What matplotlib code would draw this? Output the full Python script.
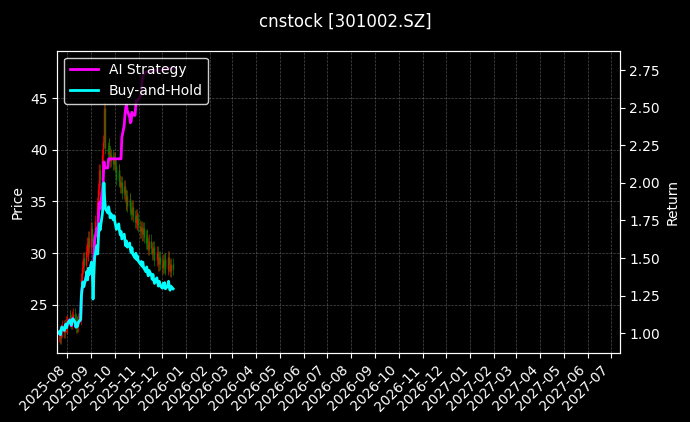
import matplotlib
matplotlib.use("Agg")
import matplotlib.pyplot as plt
import matplotlib.dates as mdates
import numpy as np
import pandas as pd

closes = [
    22.0, 22.3, 21.8, 22.5, 22.9, 22.4, 23.0, 23.3, 22.8, 23.4,
    23.9, 23.5, 23.2, 23.8, 24.1, 23.6, 22.9, 23.3, 23.0, 23.6,
    24.0, 27.5, 28.6, 29.5, 28.8, 30.2, 31.0, 29.8, 31.5, 30.6, 32.4,
    31.2, 27.0, 30.5, 33.1, 34.8, 33.6, 36.2, 38.0, 37.1, 39.5,
    40.8, 44.0, 41.5, 40.2, 39.6, 40.5, 39.8, 38.9, 39.5, 38.6,
    39.2, 38.4,
    37.8, 37.2, 38.0, 37.0, 36.4, 36.9, 35.8, 36.5, 35.6, 34.8,
    35.5, 34.6, 35.2, 34.3, 33.8, 34.5, 33.6, 33.0, 33.7, 32.8,
    33.3, 32.6, 32.1,
    32.5, 31.8, 32.4, 31.6, 31.0, 31.7, 30.9, 30.4, 31.2, 30.5,
    29.9, 30.6, 29.8, 29.3, 30.1, 29.5, 28.9, 29.6, 29.0, 28.6,
    29.3, 28.7, 29.4, 28.5, 28.9, 29.6, 28.8, 28.3, 28.9, 28.5,
]
strategy = [
    1.00, 1.01, 0.99, 1.02, 1.04, 1.02, 1.05, 1.06, 1.04, 1.06,
    1.09, 1.07, 1.05, 1.08, 1.10, 1.07, 1.04, 1.06, 1.05, 1.07,
    1.09, 1.25, 1.30, 1.34, 1.31, 1.37, 1.41, 1.36, 1.43, 1.39, 1.47,
    1.42, 1.36, 1.50, 1.62, 1.70, 1.65, 1.78, 1.87, 1.83, 1.95,
    2.01, 2.14, 2.10, 2.10, 2.10, 2.16, 2.16, 2.16, 2.16, 2.16,
    2.16, 2.16,
    2.16, 2.16, 2.16, 2.16, 2.16, 2.16, 2.30, 2.38, 2.45, 2.50,
    2.52, 2.48, 2.44, 2.40, 2.41, 2.47, 2.45, 2.45, 2.52, 2.55,
    2.55, 2.55, 2.58,
    2.62, 2.68, 2.70, 2.72, 2.74, 2.74, 2.74, 2.74, 2.74, 2.74,
    2.75, 2.75, 2.75, 2.75, 2.75, 2.75, 2.75, 2.75, 2.75, 2.75,
    2.76, 2.76, 2.76, 2.76, 2.76, 2.76, 2.76, 2.76, 2.76, 2.76,
]

dates = pd.bdate_range("2025-07-21", periods=len(closes))
closes = np.array(closes)
opens = np.r_[closes[0], closes[:-1]]
buy_hold = closes / closes[0]

plt.rcParams["font.family"] = "DejaVu Sans"
fig, ax = plt.subplots(figsize=(6.9, 4.22), dpi=100)
fig.patch.set_facecolor("black")
ax.set_facecolor("black")
fig.subplots_adjust(left=0.083, right=0.898, top=0.88, bottom=0.163)
fig.suptitle("cnstock [301002.SZ]", color="white", fontsize=12, y=0.97)

colors = np.where(closes >= opens, "red", "green")
ax.vlines(dates, np.minimum(opens, closes) - 0.6, np.maximum(opens, closes) + 0.6,
          colors=colors, linewidth=0.5)
ax.vlines(dates, np.minimum(opens, closes), np.maximum(opens, closes),
          colors=colors, linewidth=1.0)
ax.set_ylabel("Price", color="white")
ax.set_ylim(20.3, 49.6)
ax.set_xlim(pd.Timestamp("2025-07-19"), pd.Timestamp("2027-07-12"))
ax.xaxis.set_major_locator(mdates.MonthLocator())
ax.xaxis.set_major_formatter(mdates.DateFormatter("%Y-%m"))
plt.setp(ax.get_xticklabels(), rotation=45, ha="right")
ax.grid(True, color="gray", linestyle="--", linewidth=0.5, alpha=0.6)

ax2 = ax.twinx()
ax2.plot(dates, strategy, color="magenta", linewidth=2, label="AI Strategy")
ax2.plot(dates, buy_hold, color="cyan", linewidth=2, label="Buy-and-Hold")
ax2.set_ylim(0.867, 2.88)
ax2.set_ylabel("Return", color="white")
leg = ax2.legend(loc="upper left", facecolor="black", edgecolor="white")
for t in leg.get_texts():
    t.set_color("white")

for a in (ax, ax2):
    a.tick_params(colors="white")
    for s in a.spines.values():
        s.set_color("white")

fig.savefig("out.png", dpi=100, facecolor="black")
